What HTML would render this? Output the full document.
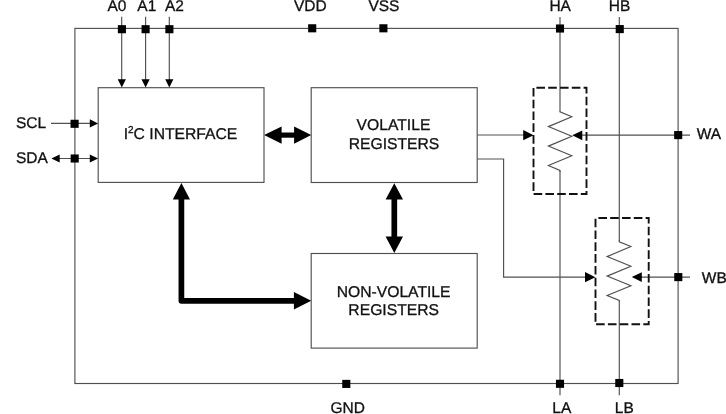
<!DOCTYPE html>
<html><head><meta charset="utf-8">
<style>
html,body{margin:0;padding:0;background:#fff;}
svg{display:block;will-change:transform;}
text{font-family:"Liberation Sans",sans-serif;fill:#111;stroke:#111;stroke-width:0.3;text-rendering:geometricPrecision;}
.l{stroke:#505050;stroke-width:1.15;fill:none;}
.b{stroke:#505050;stroke-width:1.15;fill:#fff;}
.d{stroke:#111;stroke-width:1.9;fill:none;stroke-dasharray:8.6 3.2;stroke-dashoffset:8.9;}
.k{fill:#000;}
.t{stroke:#000;stroke-width:5.7;fill:none;}
</style></head><body>
<svg width="726" height="414" viewBox="0 0 726 414">
<rect width="726" height="414" fill="#fff"/>
<!-- outer -->
<rect class="l" x="74.9" y="28.4" width="603.2" height="355.1"/>
<!-- boxes -->
<rect class="b" x="98.2" y="87.7" width="165.8" height="94.7"/>
<rect class="b" x="311.2" y="87.7" width="166" height="94.8"/>
<rect class="b" x="311.2" y="253.5" width="166" height="94.6"/>
<!-- lines -->
<g class="l">
<path d="M121.7 16.8V80M145.6 16.8V80M169.3 16.8V80"/>
<path d="M51 123.4H90M58 158.5H90"/>
<path d="M560 17V111.5M560 171V395.3M619.3 17V241M619.3 301V395.3"/>
<path d="M477.2 135H525M477.2 159H503.6V277.1H587"/>
<path d="M580 135.1H690M639 277.1H690"/>
</g>
<!-- pin squares -->
<g class="k">
<rect x="117.85" y="25.15" width="8.1" height="8.1"/>
<rect x="141.55" y="25.15" width="8.1" height="8.1"/>
<rect x="165.35" y="25.15" width="8.1" height="8.1"/>
<rect x="308.15" y="24.25" width="8.1" height="8.1"/>
<rect x="379.35" y="24.25" width="8.1" height="8.1"/>
<rect x="555.95" y="24.45" width="8.1" height="8.1"/>
<rect x="615.70" y="25.05" width="8.1" height="8.1"/>
<rect x="70.55" y="119.75" width="8.1" height="8.1"/>
<rect x="70.65" y="154.45" width="8.1" height="8.1"/>
<rect x="674.15" y="131.05" width="8.1" height="8.1"/>
<rect x="674.25" y="273.05" width="8.1" height="8.1"/>
<rect x="342.25" y="379.85" width="8.1" height="8.1"/>
<rect x="555.95" y="379.75" width="8.1" height="8.1"/>
<rect x="615.25" y="378.95" width="8.1" height="8.1"/>
</g>
<!-- small arrows -->
<g class="k">
<path d="M121.8 87.5l-4.1-8.2h8.2zM145.6 87.5l-4.1-8.2h8.2zM169.3 87.5l-4.1-8.2h8.2z"/>
<path d="M98.1 123.4l-8.3-4.1v8.2zM98.1 158.5l-8.3-4.1v8.2zM51.4 158.5l8.3-4.1v8.2z"/>
<path d="M533.6 135.2l-10.4-5.1v10.2zM595.4 277.2l-10.4-5.1v10.2z"/>
<path d="M572.3 135.3l10-4.9v9.8zM631.8 277.1l10-4.9v9.8z"/>
</g>
<!-- thick arrows -->
<path class="t" style="stroke-width:5.2" d="M280 135.1H296"/>
<path class="k" d="M264.1 135.1l17.5-8.7v17.4zM311.2 135.1l-17.1-8.7v17.4z"/>
<path class="t" d="M394.3 198V238"/>
<path class="k" d="M394.3 183.2l-8.7 16.4h17.4zM394.3 253l-8.7-16.5h17.4z"/>
<path class="t" d="M181.4 198V300.8H296" stroke-linejoin="round"/>
<path class="k" d="M181.4 183l-8.6 16.6h17.2zM311.2 300.8l-17.3-8.8v17.6z"/>
<!-- dashed -->
<rect class="d" x="533.5" y="87.8" width="53" height="106.2"/>
<rect class="d" x="595.5" y="218" width="53.2" height="106.3"/>
<!-- resistors -->
<path class="l" d="M560 111V111.8L571.8 116.7L548.4 126.6L571.8 136.3L548.4 146.1L571.8 155.7L548.4 165.5L560 170.4V172"/>
<path class="l" d="M619.3 240V241.8L630.9 246.5L607.1 256.6L630.9 266.3L607.1 276.1L630.9 285.7L607.1 295.5L619.3 300.4V301.5"/>
<!-- text -->
<g font-size="15.5">
<text x="107.4" y="10.8">A0</text>
<text x="137.3" y="10.8">A1</text>
<text x="165" y="10.8">A2</text>
<text x="293.9" y="10.6">VDD</text>
<text x="368.4" y="10.6">VSS</text>
<text x="549.4" y="10.6">HA</text>
<text x="608.8" y="10.6">HB</text>
<text x="16" y="127.9">SCL</text>
<text x="16" y="163.2">SDA</text>
<text x="696.8" y="139">WA</text>
<text x="701.8" y="282.9">WB</text>
<text x="330.4" y="413.3">GND</text>
<text x="552.3" y="413.2">LA</text>
<text x="614.8" y="413.2">LB</text>
</g>
<g font-size="15.7">
<text x="123.7" y="139.2">I<tspan font-size="10" dy="-6.6">2</tspan><tspan dy="6.6">C INTERFACE</tspan></text>
<text x="393.5" y="130.4" text-anchor="middle">VOLATILE</text>
<text x="394" y="148.6" text-anchor="middle">REGISTERS</text>
<text x="393.6" y="296.5" text-anchor="middle">NON-VOLATILE</text>
<text x="393.7" y="314.7" text-anchor="middle">REGISTERS</text>
</g>
</svg>
</body></html>
